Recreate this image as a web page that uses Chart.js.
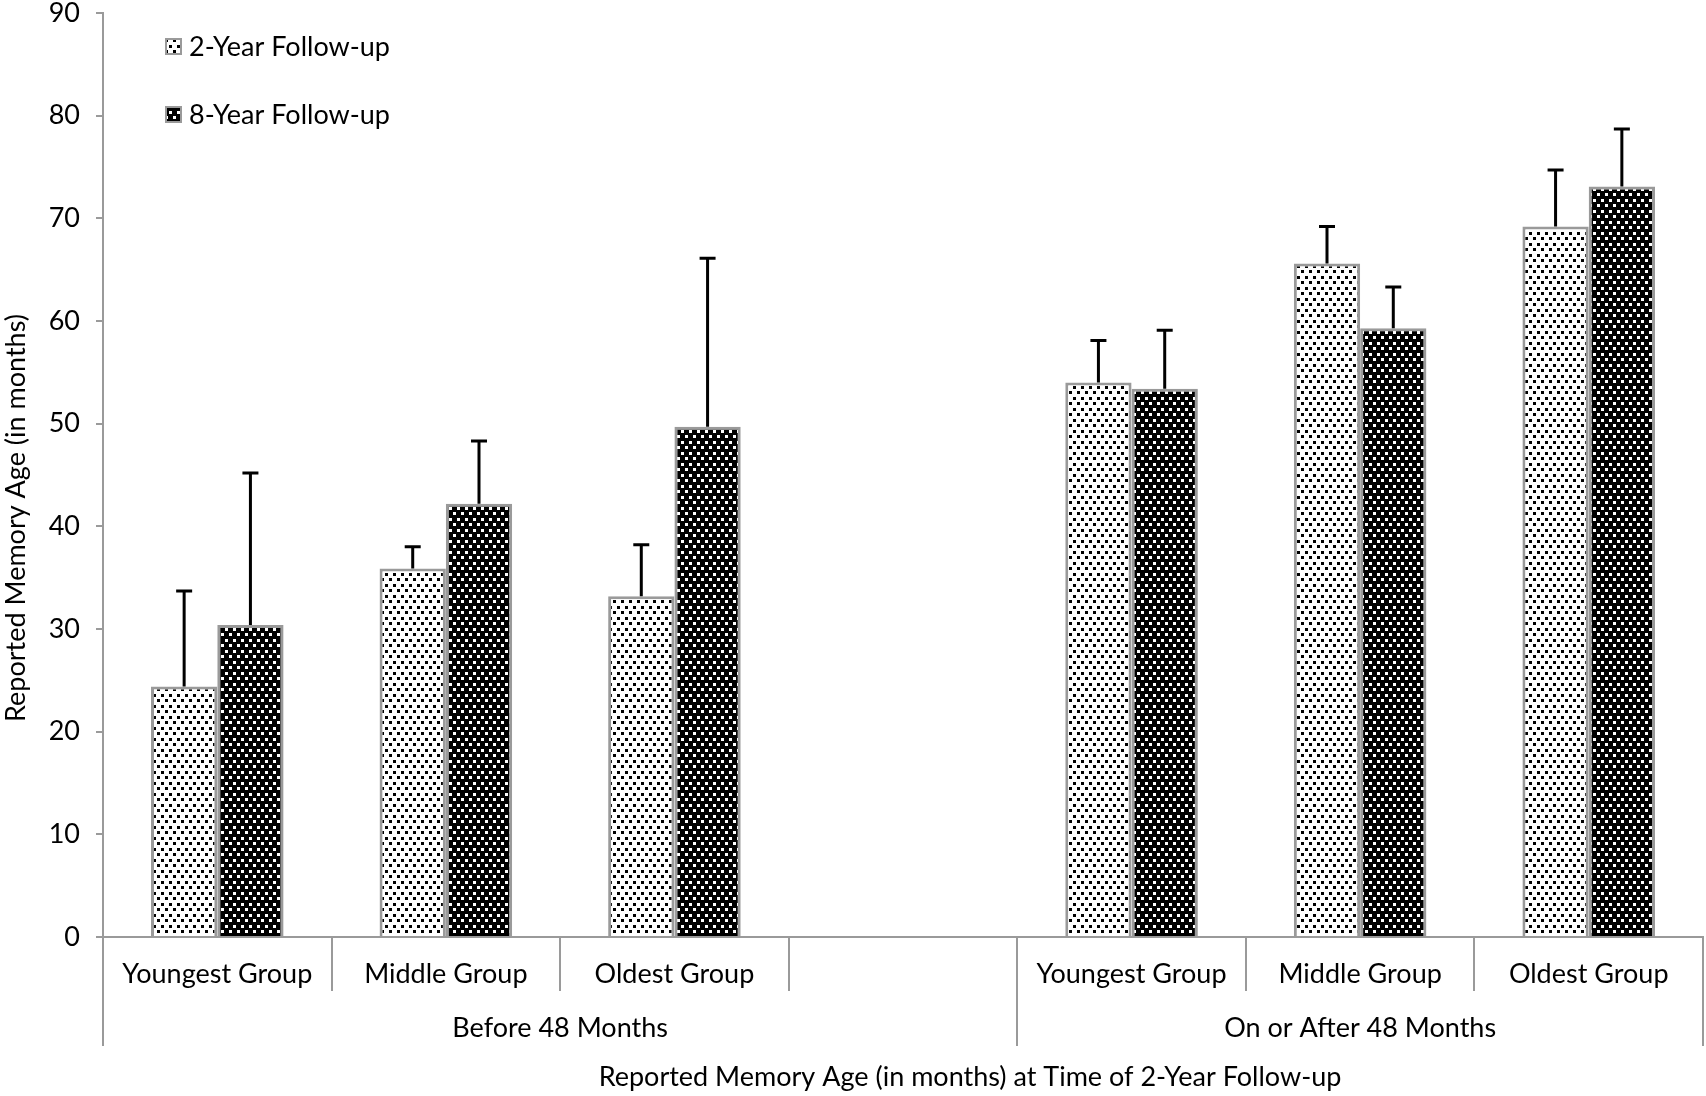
<!DOCTYPE html>
<html>
<head>
<meta charset="utf-8">
<script src="https://cdn.jsdelivr.net/npm/chart.js@4.4.1/dist/chart.umd.min.js"></script>
<style>
  html, body { margin: 0; padding: 0; background: #fff; }
  canvas { display: block; }
</style>
</head>
<body>
<canvas id="memoryChart" width="1706" height="1096"></canvas>
<script>
// dane
const categories = ['Youngest Group', 'Middle Group', 'Oldest Group', '', 'Youngest Group', 'Middle Group', 'Oldest Group'];
const groupLabels = ['Before 48 Months', 'On or After 48 Months'];
const groupSpans = [4, 3]; // ile kategorii w każdej grupie
const seriesNames = ['2-Year Follow-up', '8-Year Follow-up'];
const twoYear = [24.4, 35.9, 33.2, null, 54.0, 65.6, 69.2];
const twoYearErr = [9.3, 2.1, 5.0, null, 4.1, 3.6, 5.5];
const eightYear = [30.4, 42.2, 49.7, null, 53.4, 59.3, 73.1];
const eightYearErr = [14.8, 6.1, 16.4, null, 5.7, 4.0, 5.6];
const yMin = 0, yMax = 90, yStep = 10;
const yTitle = 'Reported Memory Age (in months)';
const xTitle = 'Reported Memory Age (in months) at Time of 2-Year Follow-up';

const FONT = 'Lato, "Open Sans", sans-serif';
const FS = 27;
const GREY = '#9a9a9a';

// wzór kropek dla słupków
function makeDots(bg, fg) {
    const c = document.createElement('canvas');
    c.width = 8; c.height = 11;
    const g = c.getContext('2d');
    g.fillStyle = bg;
    g.fillRect(0, 0, 8, 11);
    g.fillStyle = fg;
    g.fillRect(1, 1, 3, 3);
    g.fillRect(5, 6, 3, 3);
    return g.createPattern(c, 'repeat');
}
const whiteDots = makeDots('#ffffff', '#000000');
const blackDots = makeDots('#000000', '#ffffff');

const errors = [twoYearErr, eightYearErr];

// słupki błędów, separatory osi X, etykiety grup, tytuły osi i legenda
const extrasPlugin = {
    id: 'extras',
    afterDatasetsDraw(chart) {
        const ctx = chart.ctx;
        const y = chart.scales.y;
        ctx.save();
        ctx.strokeStyle = '#000';
        ctx.lineWidth = 3;
        chart.data.datasets.forEach((ds, di) => {
            const meta = chart.getDatasetMeta(di);
            meta.data.forEach((bar, i) => {
                if (ds.data[i] == null) return;
                const top = y.getPixelForValue(ds.data[i] + errors[di][i]);
                ctx.beginPath();
                ctx.moveTo(bar.x, bar.y);
                ctx.lineTo(bar.x, top);
                ctx.moveTo(bar.x - 8, top);
                ctx.lineTo(bar.x + 8, top);
                ctx.stroke();
            });
        });
        ctx.restore();
    },
    afterDraw(chart) {
        const ctx = chart.ctx;
        const area = chart.chartArea;
        const n = categories.length;
        const w = (area.right - area.left) / n;
        const y0 = area.bottom;
        ctx.save();
        ctx.strokeStyle = GREY;
        ctx.lineWidth = 2;
        // krótkie separatory kategorii
        for (let k = 0; k <= n; k++) {
            const x = Math.round(area.left + k * w);
            ctx.beginPath();
            ctx.moveTo(x, y0);
            ctx.lineTo(x, y0 + 54);
            ctx.stroke();
        }
        // długie separatory grup
        let k = 0;
        const bounds = [0];
        groupSpans.forEach(s => { k += s; bounds.push(k); });
        bounds.forEach(b => {
            const x = Math.round(area.left + b * w);
            ctx.beginPath();
            ctx.moveTo(x, y0);
            ctx.lineTo(x, y0 + 109);
            ctx.stroke();
        });
        // etykiety grup
        ctx.fillStyle = '#000';
        ctx.font = FS + 'px ' + FONT;
        ctx.textAlign = 'center';
        ctx.textBaseline = 'middle';
        groupLabels.forEach((lbl, gi) => {
            const cx = area.left + (bounds[gi] + bounds[gi + 1]) / 2 * w;
            ctx.fillText(lbl, cx, y0 + 91);
        });
        // tytuł osi X (w oryginale przesunięty w prawo)
        ctx.fillText(xTitle, (area.left + area.right) / 2 + 67, y0 + 140);
        // tytuł osi Y
        ctx.save();
        ctx.translate(16, (area.top + area.bottom) / 2 + 43);
        ctx.rotate(-Math.PI / 2);
        ctx.fillText(yTitle, 0, 0);
        ctx.restore();

        // legenda
        const fills = [whiteDots, blackDots];
        ctx.textAlign = 'left';
        seriesNames.forEach((name, si) => {
            const ly = 38 + si * 68;
            ctx.fillStyle = fills[si];
            ctx.fillRect(165, ly, 17, 17);
            ctx.strokeStyle = GREY;
            ctx.lineWidth = 2;
            ctx.strokeRect(166, ly + 1, 15, 15);
            ctx.fillStyle = '#000';
            ctx.fillText(name, 189, ly + 9);
        });
        ctx.restore();
    }
};

const ctx = document.getElementById('memoryChart').getContext('2d');
const memoryChart = new Chart(ctx, {
    type: 'bar',
    data: {
        labels: categories,
        datasets: [{
            label: seriesNames[0],
            data: twoYear,
            backgroundColor: whiteDots,
            borderColor: GREY,
            borderWidth: 3
        }, {
            label: seriesNames[1],
            data: eightYear,
            backgroundColor: blackDots,
            borderColor: GREY,
            borderWidth: 3
        }]
    },
    options: {
        responsive: false,
        animation: false,
        devicePixelRatio: 1,
        categoryPercentage: 0.58,
        barPercentage: 1.0,
        layout: { padding: { top: 0, right: 3, left: 0, bottom: 0 } },
        plugins: {
            legend: { display: false },
            tooltip: { enabled: false }
        },
        scales: {
            x: {
                grid: { display: false, drawTicks: false },
                border: { display: true, color: GREY, width: 2 },
                ticks: {
                    padding: 21,
                    color: '#000',
                    font: { family: FONT, size: FS },
                    maxRotation: 0,
                    autoSkip: false
                },
                afterFit(scale) { scale.height = 159; }
            },
            y: {
                min: yMin,
                max: yMax,
                ticks: {
                    stepSize: yStep,
                    padding: 16,
                    color: '#000',
                    font: { family: FONT, size: FS }
                },
                grid: { drawOnChartArea: false, drawTicks: true, tickLength: 7, color: GREY, lineWidth: 2 },
                border: { display: true, color: GREY, width: 2 },
                afterFit(scale) {
                    scale.width = 103;
                    scale.paddingTop = 13;
                    scale.paddingBottom = 0;
                }
            }
        }
    },
    plugins: [extrasPlugin]
});
</script>
</body>
</html>
